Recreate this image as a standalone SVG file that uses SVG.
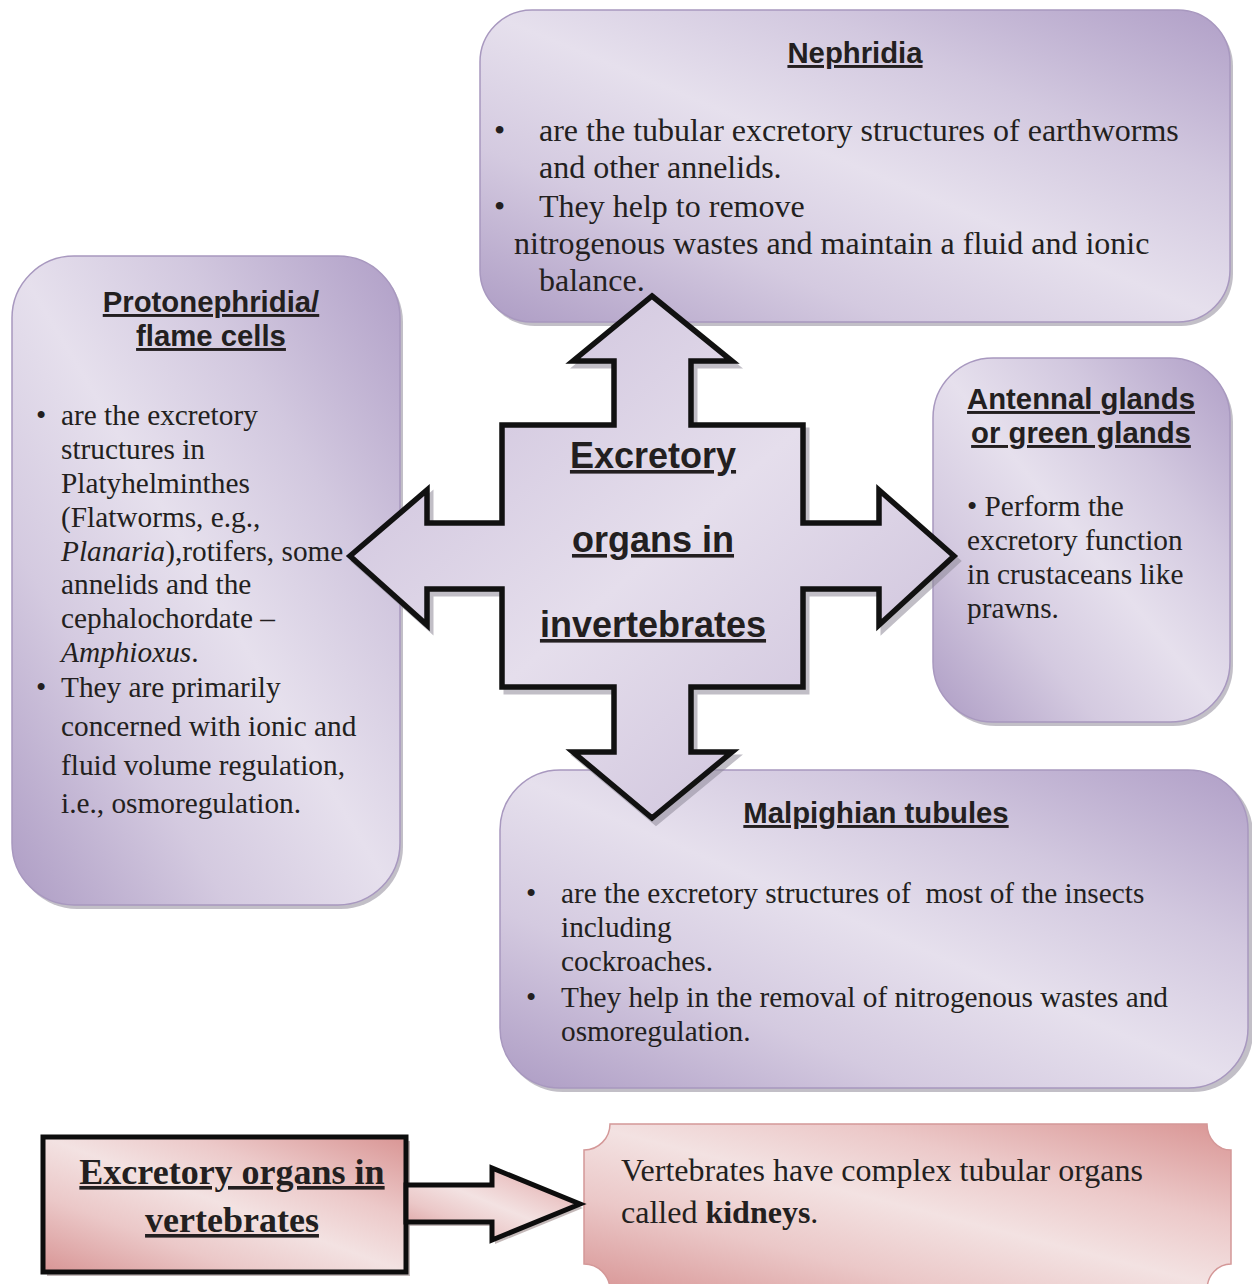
<svg xmlns="http://www.w3.org/2000/svg" width="1252" height="1284" viewBox="0 0 1252 1284">
<defs>
<linearGradient id="gPurple" x1="1" y1="0" x2="0" y2="1">
<stop offset="0" stop-color="#b09fc7"/>
<stop offset="0.28" stop-color="#d2c8df"/>
<stop offset="0.5" stop-color="#e6e0ed"/>
<stop offset="0.72" stop-color="#d4cae0"/>
<stop offset="1" stop-color="#ad9cc4"/>
</linearGradient>
<linearGradient id="gCross" x1="0" y1="0" x2="1" y2="1">
<stop offset="0" stop-color="#c8bbd8"/>
<stop offset="0.5" stop-color="#e5deec"/>
<stop offset="1" stop-color="#c6b9d6"/>
</linearGradient>
<linearGradient id="gPink" x1="1" y1="0" x2="0" y2="1">
<stop offset="0" stop-color="#d99594"/>
<stop offset="0.3" stop-color="#ecc9c9"/>
<stop offset="0.5" stop-color="#f3e2e2"/>
<stop offset="0.72" stop-color="#ebc8c8"/>
<stop offset="1" stop-color="#d89595"/>
</linearGradient>
<style>
.box{fill:url(#gPurple);stroke:#a898bf;stroke-width:1.5}
.shadow{fill:#8f8a99;opacity:0.55}
.title{font-family:"Liberation Sans",Arial,sans-serif;font-weight:bold;font-size:29.3px;fill:#231f20;text-anchor:middle;text-decoration:underline}
.body{font-family:"Liberation Serif","Times New Roman",serif;font-size:29.3px;fill:#231f20}
.big{font-size:32px}
.cross{font-family:"Liberation Sans",Arial,sans-serif;font-weight:bold;font-size:36px;fill:#231f20;text-anchor:middle;text-decoration:underline}
.vt{font-family:"Liberation Serif","Times New Roman",serif;font-weight:bold;font-size:36px;fill:#231f20;text-anchor:middle;text-decoration:underline}
</style>
</defs>

<g id="nephridia">
<rect class="shadow" x="483" y="14" width="750" height="312" rx="52"/>
<rect class="box" x="480" y="10" width="750" height="312" rx="52"/>
<text class="title" x="855" y="63">Nephridia</text>
<text class="body big" x="494" y="141">•</text>
<text class="body big" x="539" y="141">are the tubular excretory structures of earthworms</text>
<text class="body big" x="539" y="178">and other annelids.</text>
<text class="body big" x="494" y="217">•</text>
<text class="body big" x="539" y="217">They help to remove</text>
<text class="body big" x="514" y="254">nitrogenous wastes and maintain a fluid and ionic</text>
<text class="body big" x="539" y="291">balance.</text>
</g>

<g id="protonephridia">
<rect class="shadow" x="15" y="260" width="388" height="649" rx="62"/>
<rect class="box" x="12" y="256" width="388" height="649" rx="62"/>
<text class="title" x="211" y="312">Protonephridia/</text>
<text class="title" x="211" y="346">flame cells</text>
<text class="body" x="36" y="425">•</text>
<text class="body" x="61" y="425">are the excretory</text>
<text class="body" x="61" y="459">structures in</text>
<text class="body" x="61" y="493">Platyhelminthes</text>
<text class="body" x="61" y="527">(Flatworms, e.g.,</text>
<text class="body" x="61" y="561"><tspan font-style="italic">Planaria</tspan>),rotifers, some</text>
<text class="body" x="61" y="594">annelids and the</text>
<text class="body" x="61" y="628">cephalochordate –</text>
<text class="body" x="61" y="662"><tspan font-style="italic">Amphioxus</tspan>.</text>
<text class="body" x="36" y="697">•</text>
<text class="body" x="61" y="697">They are primarily</text>
<text class="body" x="61" y="736">concerned with ionic and</text>
<text class="body" x="61" y="775">fluid volume regulation,</text>
<text class="body" x="61" y="813">i.e., osmoregulation.</text>
</g>

<g id="antennal">
<rect class="shadow" x="936" y="362" width="297" height="364" rx="60"/>
<rect class="box" x="933" y="358" width="297" height="364" rx="60"/>
<text class="title" x="1081" y="409">Antennal glands</text>
<text class="title" x="1081" y="443">or green glands</text>
<text class="body" x="967" y="516">• Perform the</text>
<text class="body" x="967" y="550">excretory function</text>
<text class="body" x="967" y="584">in crustaceans like</text>
<text class="body" x="967" y="618">prawns.</text>
</g>

<g id="malpighian">
<rect class="shadow" x="503" y="774" width="750" height="318" rx="60"/>
<rect class="box" x="500" y="770" width="748" height="318" rx="60"/>
<text class="title" x="876" y="823">Malpighian tubules</text>
<text class="body" x="526" y="903">•</text>
<text class="body" x="561" y="903" xml:space="preserve">are the excretory structures of  most of the insects</text>
<text class="body" x="561" y="937">including</text>
<text class="body" x="561" y="971">cockroaches.</text>
<text class="body" x="526" y="1007">•</text>
<text class="body" x="561" y="1007">They help in the removal of nitrogenous wastes and</text>
<text class="body" x="561" y="1041">osmoregulation.</text>
</g>

<g id="center">
<polygon transform="translate(4,5)" fill="#8f8a99" stroke="#8f8a99" stroke-width="5" opacity="0.55" stroke-linejoin="miter" points="652,296 732,361 691,361 691,425 803,425 803,523 879,523 879,490 954,556 879,625 879,589 803,589 803,687 691,687 691,752 732,752 652,818 573,752 614,752 614,687 502,687 502,589 427,589 427,625 350,556 427,490 427,523 502,523 502,425 614,425 614,361 573,361"/>
<polygon fill="url(#gCross)" stroke="#111" stroke-width="5.5" stroke-linejoin="miter" points="652,296 732,361 691,361 691,425 803,425 803,523 879,523 879,490 954,556 879,625 879,589 803,589 803,687 691,687 691,752 732,752 652,818 573,752 614,752 614,687 502,687 502,589 427,589 427,625 350,556 427,490 427,523 502,523 502,425 614,425 614,361 573,361"/>
<text class="cross" x="653" y="468">Excretory</text>
<text class="cross" x="653" y="552">organs in</text>
<text class="cross" x="653" y="637">invertebrates</text>
</g>

<g id="vertebrates">
<rect x="47" y="1141" width="363" height="135" fill="#9c8a8a" opacity="0.6"/>
<rect x="43" y="1137" width="363" height="135" fill="url(#gPink)" stroke="#0d0d0d" stroke-width="5"/>
<text class="vt" x="232" y="1184">Excretory organs in</text>
<text class="vt" x="232" y="1232">vertebrates</text>
</g>

<g id="kidneys">
<path d="M610,1124 L1207,1124 A24,26 0 0 0 1231,1150 L1231,1264 A24,26 0 0 0 1207,1290 L610,1290 A26,26 0 0 0 584,1264 L584,1150 A26,26 0 0 0 610,1124 Z" fill="url(#gPink)" stroke="#d49898" stroke-width="1.5"/>
<text class="body big" x="621" y="1181">Vertebrates have complex tubular organs</text>
<text class="body big" x="621" y="1223">called <tspan font-weight="bold">kidneys</tspan>.</text>
</g>

<g id="connectors">
<polygon transform="translate(3,4)" fill="#9c8a8a" opacity="0.6" points="406,1185 492,1185 492,1168 580,1204 492,1240 492,1222 406,1222"/>
<polygon fill="url(#gPink)" stroke="#0d0d0d" stroke-width="5" stroke-linejoin="miter" points="406,1185 492,1185 492,1168 580,1204 492,1240 492,1222 406,1222"/>
</g>
</svg>
